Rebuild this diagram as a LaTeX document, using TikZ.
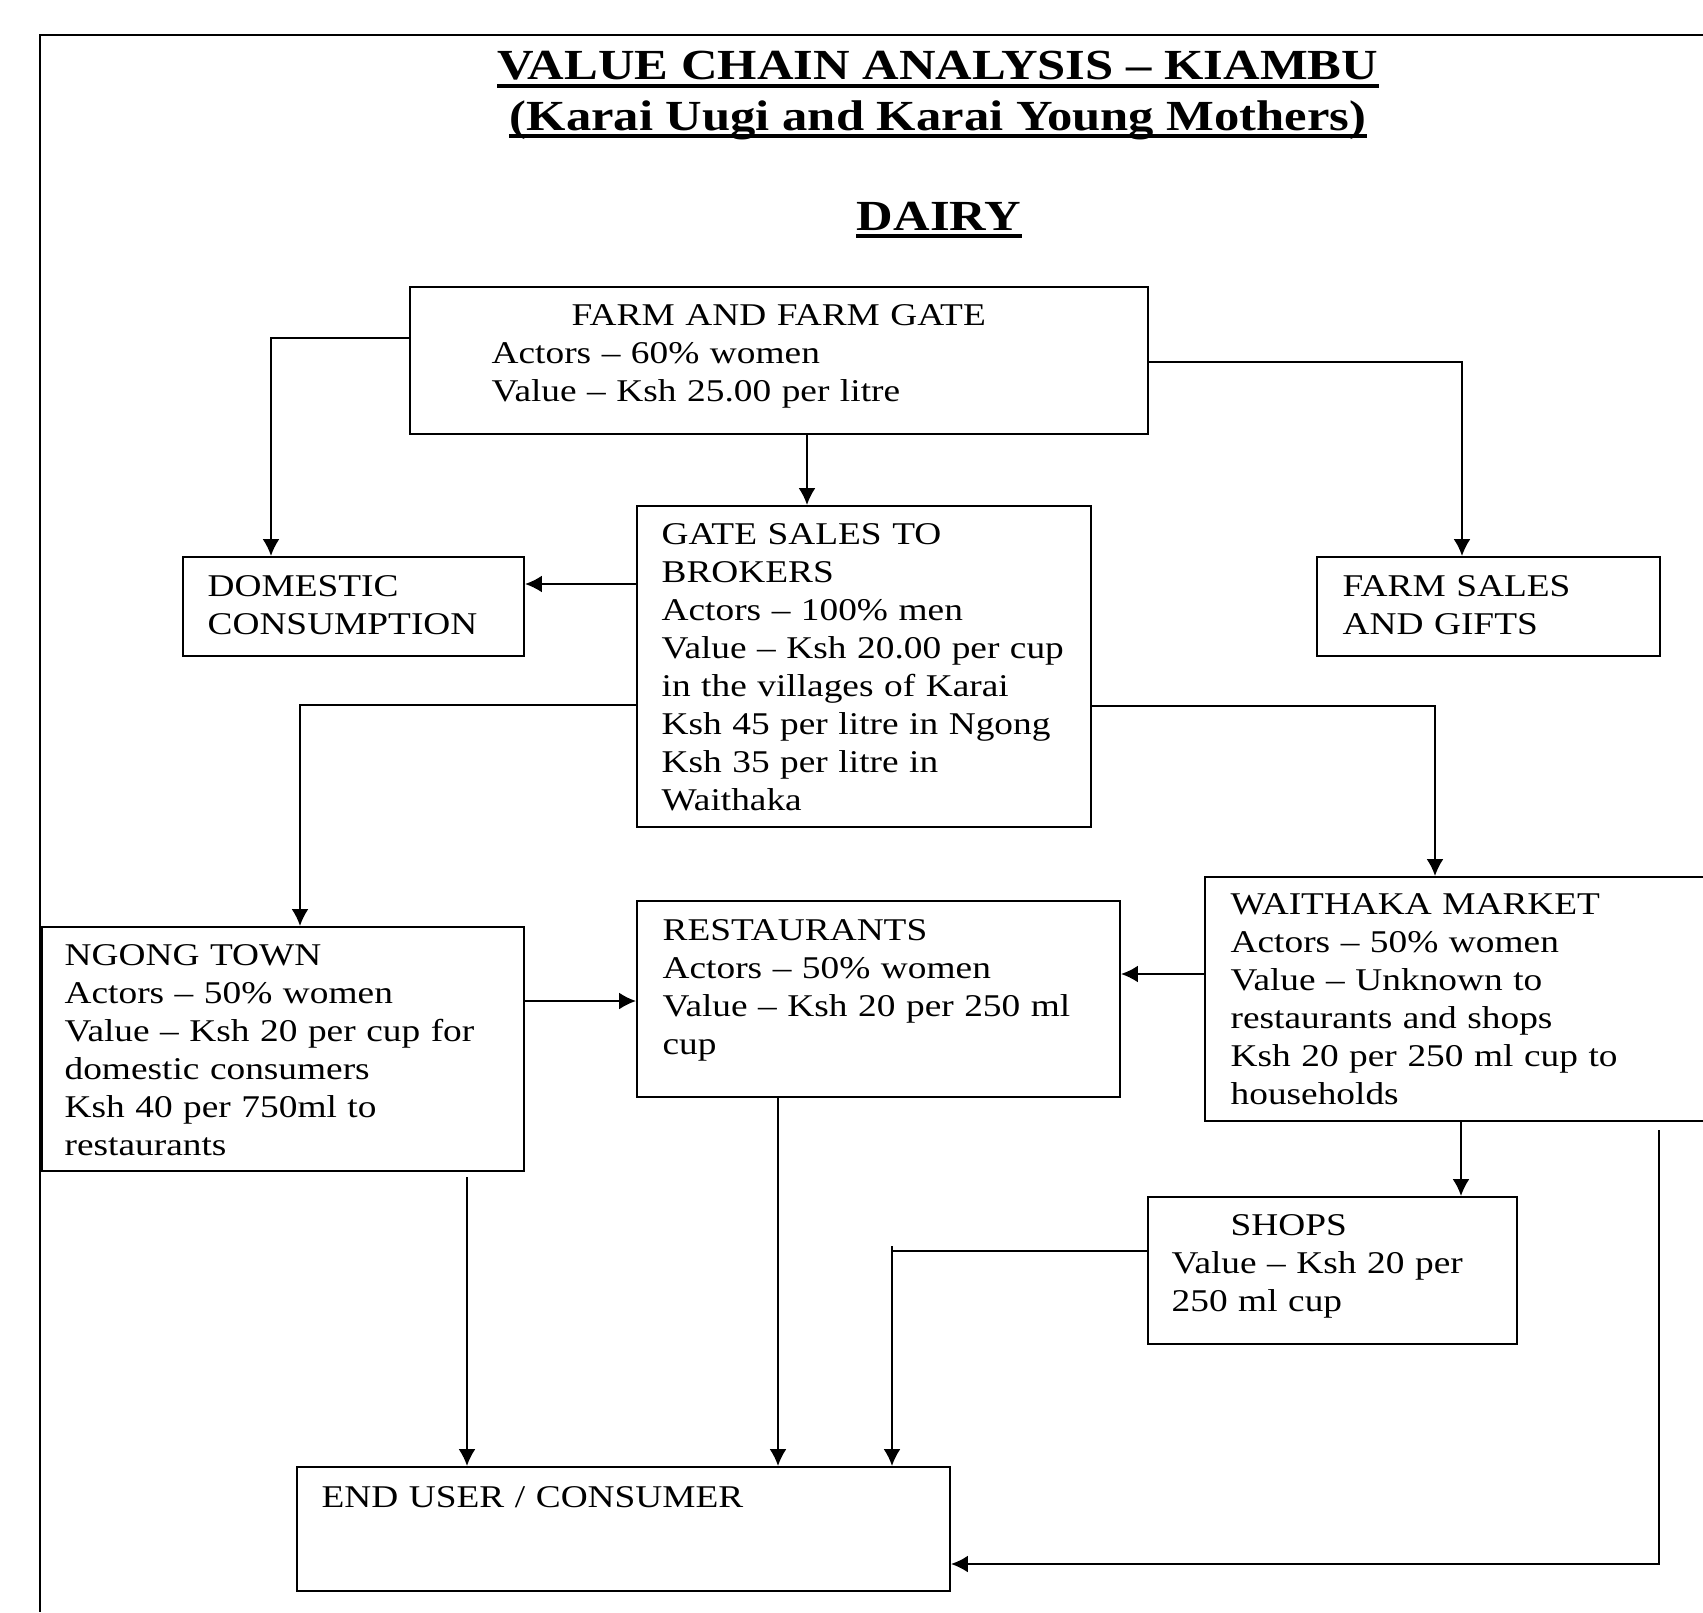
\documentclass[tikz,border=0pt]{standalone}
\usepackage{fontspec}
\setmainfont{Liberation Serif}[FakeStretch=1.18]
\usetikzlibrary{arrows.meta,fit}

\tikzset{
  stage/.style={draw, line width=0.6pt, inner sep=0pt},
  stagetext/.style={anchor=base west, inner sep=0pt, align=left, text width=6cm,
    font=\fontsize{9}{10.8}\selectfont},
  heading/.style={anchor=base, inner sep=0pt, font=\fontsize{12.2}{14}\selectfont\bfseries},
  headline/.style={line width=1.2pt},
  flow/.style={line width=0.5pt, -{Latex[length=4.8pt,width=4.8pt]}}
}

\begin{document}
\begin{tikzpicture}[x=0.01cm,y=-0.01cm]
	\useasboundingbox (0,0) rectangle (1703,1612);
	\draw[line width=0.8pt] (1703,35) -- (40,35) -- (40,1612);
	
	% headings
	\node[heading] (title) at (938,80) {VALUE CHAIN ANALYSIS -- KIAMBU};
	\node[heading] (groups) at (938,130) {(Karai Uugi and Karai Young Mothers)};
	\node[heading] (dairy) at (939,230) {DAIRY};
	\foreach \h in {title,groups,dairy}{
		\draw[headline] ([yshift=-1.7pt]\h.base west) -- ([yshift=-1.7pt]\h.base east);
	}
	
	% stages of the chain
	\node[stage, fit={(410,287) (1148,434)}] (farm) {};
	\node[stage, fit={(183,557) (524,656)}] (dom) {};
	\node[stage, fit={(637,506) (1091,827)}] (gate) {};
	\node[stage, fit={(1317,557) (1660,656)}] (fsales) {};
	\node[stage, fit={(42,927) (524,1171)}] (ngong) {};
	\node[stage, fit={(637,901) (1120,1097)}] (rest) {};
	\node[stage, fit={(1205,877) (1720,1121)}] (waith) {};
	\node[stage, fit={(1148,1197) (1517,1344)}] (shops) {};
	\node[stage, fit={(297,1467) (950,1591)}] (endu) {};
	
	\node[stagetext, text width=5.74cm] (farmtxt) at ([shift={(82,40)}]farm.north west)
		{\makebox[\linewidth]{FARM AND FARM GATE}\\ Actors -- 60\% women\\ Value -- Ksh 25.00 per litre};
	\node[stagetext] (domtxt) at ([shift={(25,41)}]dom.north west) {DOMESTIC\\ CONSUMPTION};
	\node[stagetext] (gatetxt) at ([shift={(25,40)}]gate.north west)
		{GATE SALES TO\\ BROKERS\\ Actors -- 100\% men\\ Value -- Ksh 20.00 per cup\\ in the villages of Karai\\ Ksh 45 per litre in Ngong\\ Ksh 35 per litre in\\ Waithaka};
	\node[stagetext] (fsalestxt) at ([shift={(26,41)}]fsales.north west) {FARM SALES\\ AND GIFTS};
	\node[stagetext] (ngongtxt) at ([shift={(23,40)}]ngong.north west)
		{NGONG TOWN\\ Actors -- 50\% women\\ Value -- Ksh 20 per cup for\\ domestic consumers\\ Ksh 40 per 750ml to\\ restaurants};
	\node[stagetext] (resttxt) at ([shift={(26,41)}]rest.north west)
		{RESTAURANTS\\ Actors -- 50\% women\\ Value -- Ksh 20 per 250 ml\\ cup};
	\node[stagetext] (waithtxt) at ([shift={(26,39)}]waith.north west)
		{WAITHAKA MARKET\\ Actors -- 50\% women\\ Value -- Unknown to\\ restaurants and shops\\ Ksh 20 per 250 ml cup to\\ households};
	\node[stagetext] (shopstxt) at ([shift={(24,40)}]shops.north west)
		{\hspace*{0.59cm}SHOPS\\ Value -- Ksh 20 per\\ 250 ml cup};
	\node[stagetext] (endutxt) at ([shift={(25,42)}]endu.north west) {END USER / CONSUMER};
	
	% flows
	\draw[flow] (farm.west |- 0,338) -| (271,0 |- dom.north);
	\draw[flow] (farm.south -| 807,0) -- (gate.north -| 807,0);
	\draw[flow] (farm.east |- 0,362) -| (1462,0 |- fsales.north);
	\draw[flow] (gate.west |- 0,584) -- (dom.east |- 0,584);
	\draw[flow] (gate.west |- 0,705) -| (300,0 |- ngong.north);
	\draw[flow] (gate.east |- 0,706) -| (1435,0 |- waith.north);
	\draw[flow] (ngong.east |- 0,1001) -- (rest.west |- 0,1001);
	\draw[flow] (waith.west |- 0,974) -- (rest.east |- 0,974);
	\draw[flow] (waith.south -| 1461,0) -- (shops.north -| 1461,0);
	
	\coordinate (sbend) at (892,1251);
	\coordinate (ngongout) at (467,1177);
	\coordinate (waithout) at (1659,1130);
	\draw[line width=0.5pt] (shops.west |- sbend) -- (sbend);
	\draw[flow] ([shift={(0,-5)}]sbend) -- (sbend |- endu.north);
	\draw[flow] (ngongout) -- (ngongout |- endu.north);
	\draw[flow] (rest.south -| 778,0) -- (778,0 |- endu.north);
	\draw[flow] (waithout) |- (endu.east |- 0,1564);
\end{tikzpicture}
\end{document}
